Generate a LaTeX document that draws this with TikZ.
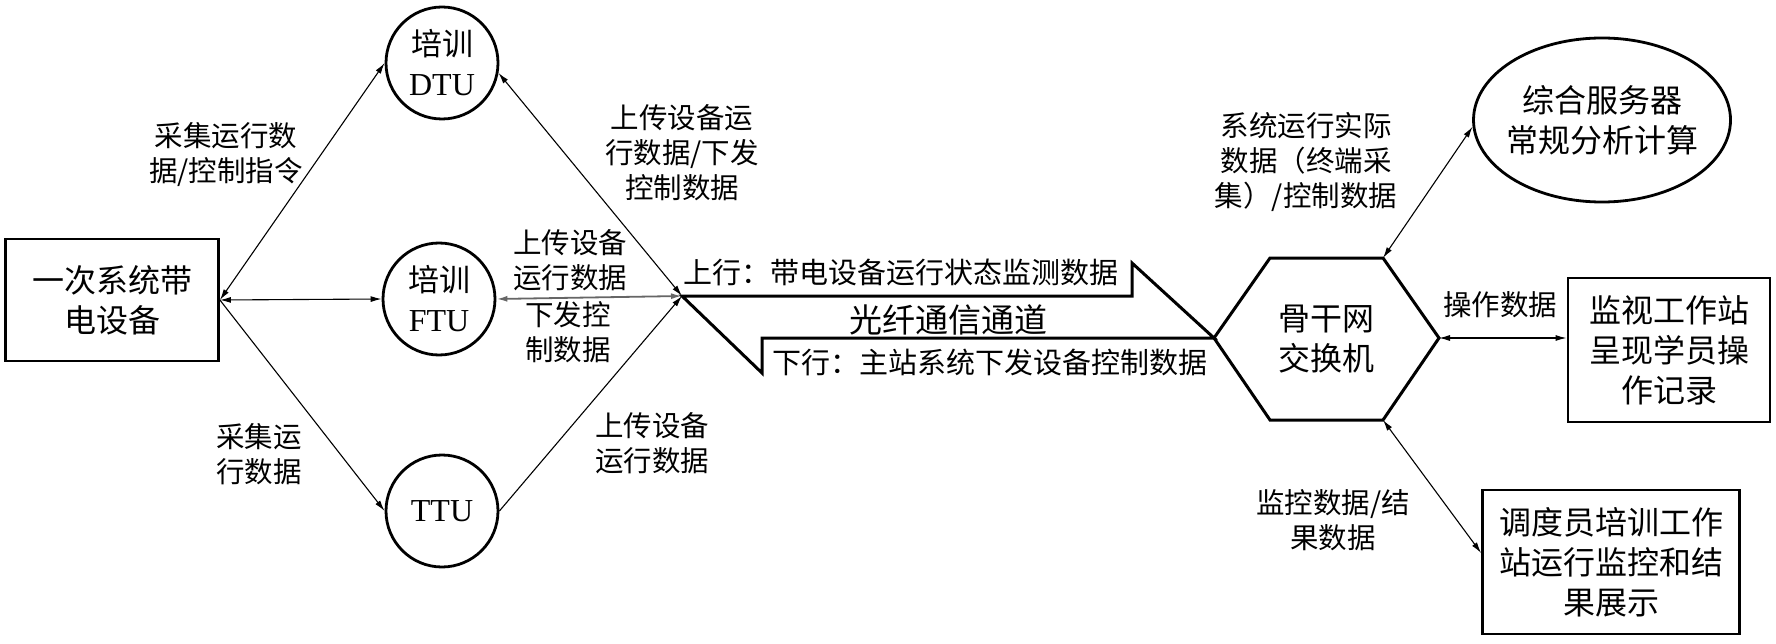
\documentclass[tikz,border=0pt]{standalone}
\usepackage{fontspec}
\setmainfont{Liberation Serif}
\newfontfamily\cjk{Noto Sans CJK SC}
\usetikzlibrary{arrows.meta,shapes.geometric}
\begin{document}
\begin{tikzpicture}[x=1pt,y=-1pt,
  lbl/.style={font=\cjk\fontsize{28.5}{35}\selectfont, align=center, inner sep=0pt},
  chtext/.style={font=\cjk\fontsize{29}{35}\selectfont, inner sep=0pt},
  ctext/.style={font=\cjk\fontsize{32}{40}\selectfont, align=center},
  unit/.style={circle, draw, line width=2.8pt, minimum size=112pt, inner sep=0pt,
               font=\fontsize{32}{40}\selectfont, align=center},
  boxn/.style={rectangle, draw, line width=2.8pt, inner sep=0pt},
  conn/.style={line width=1.1pt, {Latex[length=11pt,width=6pt]}-{Latex[length=11pt,width=6pt]}},
  conn1/.style={line width=1.1pt, -{Latex[length=11pt,width=6pt]}},
  conng/.style={conn, draw=black!60, line width=1.8pt},
  chan/.style={line width=3pt, line join=miter},
]
\useasboundingbox (0,0) rectangle (1776,644);
\fill[white] (0,0) rectangle (1776,644);

% left side nodes
\node[boxn, ctext, minimum width=213pt, minimum height=122pt] (src) at (112,300) {一次系统带\\电设备};
\node[unit] (dtu) at (442,63) {{\cjk\fontsize{31}{40}\selectfont 培训}\\DTU};
\node[unit] (ftu) at (439,299) {{\cjk\fontsize{31}{40}\selectfont 培训}\\FTU};
\node[unit] (ttu) at (442,511) {TTU};
\coordinate (P) at (682,296);

% hexagon switch
\coordinate (hxL) at (1214,338);
\coordinate (hxTL) at (1270,258);
\coordinate (hxTR) at (1383,258);
\coordinate (hxR) at (1439,338);
\coordinate (hxBR) at (1383,420);
\coordinate (hxBL) at (1270,420);
\draw[line width=3pt, line join=miter] (hxL) -- (hxTL) -- (hxTR) -- (hxR) -- (hxBR) -- (hxBL) -- cycle;
\node[ctext] (sw) at (1326,339) {骨干网\\交换机};

% right side nodes
\node[ellipse, draw, line width=2.8pt, minimum width=257pt, minimum height=164pt,
      inner xsep=-6pt, inner ysep=0pt, ctext] (srv) at (1602,120) {综合服务器\\常规分析计算};
\node[boxn, ctext, minimum width=202pt, minimum height=144pt] (ws) at (1669,350) {监视工作站\\呈现学员操\\作记录};
\node[boxn, ctext, minimum width=257pt, minimum height=144pt] (dd) at (1611,562) {调度员培训工作\\站运行监控和结\\果展示};

% optical channel
\draw[chan] (P) -- (1132,296) -- (1132,263) -- (hxL) -- (762,338) -- (762,373) -- cycle;
\node[chtext, anchor=west] (up) at (683,272) {上行：带电设备运行状态监测数据};
\node[font=\cjk\fontsize{33}{40}\selectfont, inner sep=0pt] (fib) at (948,320) {光纤通信通道};
\node[chtext, anchor=east] (down) at (1208,362) {下行：主站系统下发设备控制数据};

% connectors
\draw[conn] (src.east) -- (dtu.west);
\draw[conn] (src.east) -- (ftu.west);
\draw[conn1] (src.east) -- (ttu.west);
\draw[conn] (P) -- (dtu.-10);
\draw[conng] (ftu.east) -- (P);
\draw[conn1] (ttu.east) -- (P);
\draw[conn] (hxTR) -- (srv.183);
\draw[conn] (hxR) -- (hxR -| ws.west);
\draw[conn] (hxBR) -- ([yshift=9pt]dd.west);

% labels
\node[lbl] (l1) at (226,155) {采集运行数\\据/控制指令};
\node[lbl] (l2) at (682,153) {上传设备运\\行数据/下发\\控制数据};
\node[lbl] (l3) at (570,260) {上传设备\\运行数据};
\node[lbl] (l4) at (568,332) {下发控\\制数据};
\node[lbl] (l5) at (652,443) {上传设备\\运行数据};
\node[lbl] (l6) at (259,454) {采集运\\行数据};
\node[lbl] (l7) at (1306,162) {系统运行实际\\数据（终端采\\集）/控制数据};
\node[lbl] (l8) at (1500,305) {操作数据};
\node[lbl] (l9) at (1333,520) {监控数据/结\\果数据};
\end{tikzpicture}
\end{document}
